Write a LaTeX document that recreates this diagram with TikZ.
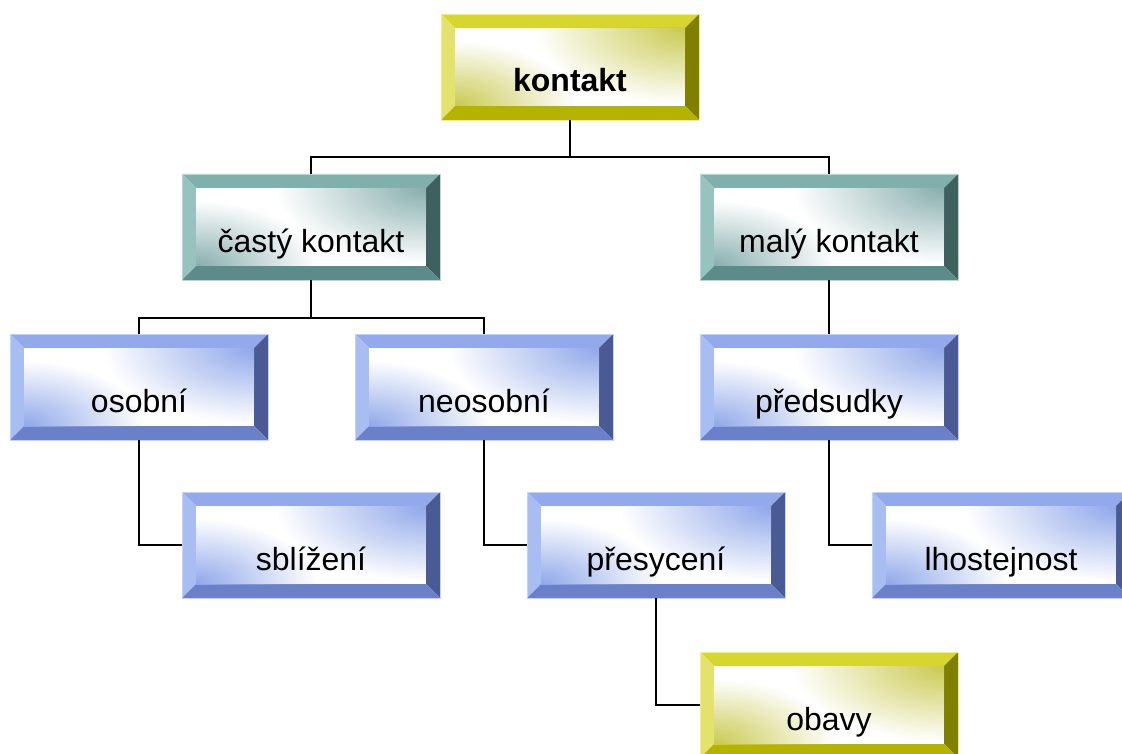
\documentclass[tikz,border=0pt]{standalone}
\usepackage{fontspec}
\setmainfont{Liberation Sans}
\usetikzlibrary{calc,fadings}

% bevel palettes: top, left, right, bottom, inner tint, rim
\definecolor{yTop}{HTML}{D6D62E}
\definecolor{yLeft}{HTML}{E2E26C}
\definecolor{yRight}{HTML}{7F7F00}
\definecolor{yBot}{HTML}{B4B400}
\definecolor{yTint}{HTML}{CACA50}
\definecolor{yRim}{HTML}{EEEE90}
\definecolor{tTop}{HTML}{80B0AC}
\definecolor{tLeft}{HTML}{98C2BE}
\definecolor{tRight}{HTML}{3E605E}
\definecolor{tBot}{HTML}{5C8C8A}
\definecolor{tTint}{HTML}{88AEAE}
\definecolor{tRim}{HTML}{B8D8D6}
\definecolor{bTop}{HTML}{92AAEC}
\definecolor{bLeft}{HTML}{A8BEF2}
\definecolor{bRight}{HTML}{4A5A94}
\definecolor{bBot}{HTML}{6A80C8}
\definecolor{bTint}{HTML}{90A8EA}
\definecolor{bRim}{HTML}{C4D2F8}

% soft corner glow: opaque in the middle, fading out to the rim
\tikzfading[name=glowfade, inner color=transparent!0, outer color=transparent!100]

\def\bv{14pt}

\tikzset{
  bevelbox/.style n args={6}{
    rectangle, inner sep=0pt, outer sep=0pt,
    minimum width=258pt, minimum height=106pt,
    text height=78pt, text depth=28pt,
    font=\fontsize{32}{38}\selectfont,
    draw=#6, line width=0.8pt,
    path picture={
      \path (path picture bounding box.north west) coordinate (@nw)
            (path picture bounding box.north east) coordinate (@ne)
            (path picture bounding box.south east) coordinate (@se)
            (path picture bounding box.south west) coordinate (@sw);
      \path ([shift={(\bv,-\bv)}]@nw) coordinate (@inw)
            ([shift={(-\bv,-\bv)}]@ne) coordinate (@ine)
            ([shift={(-\bv,\bv)}]@se) coordinate (@ise)
            ([shift={(\bv,\bv)}]@sw) coordinate (@isw);
      \fill[#1] (@nw) -- (@ne) -- (@ine) -- (@inw) -- cycle;
      \fill[#2] (@nw) -- (@inw) -- (@isw) -- (@sw) -- cycle;
      \fill[#3] (@ne) -- (@se) -- (@ise) -- (@ine) -- cycle;
      \fill[#4] (@sw) -- (@isw) -- (@ise) -- (@se) -- cycle;
      \fill[white] (@inw) rectangle (@ise);
      \begin{scope}
        \clip (@inw) rectangle (@ise);
        \fill[#5, path fading=glowfade] (@ine) ellipse [x radius=150pt, y radius=75pt];
        \fill[#5, path fading=glowfade] (@isw) ellipse [x radius=120pt, y radius=65pt];
      \end{scope}
    }
  },
  goldbox/.style={bevelbox={yTop}{yLeft}{yRight}{yBot}{yTint}{yRim}},
  tealbox/.style={bevelbox={tTop}{tLeft}{tRight}{tBot}{tTint}{tRim}},
  bluebox/.style={bevelbox={bTop}{bLeft}{bRight}{bBot}{bTint}{bRim}},
  link/.style={draw=black, line width=2pt}
}

\begin{document}
\begin{tikzpicture}[x=1pt, y=-1pt]
  \useasboundingbox (0,0) rectangle (1122,754);

  % junction points of the branching connectors
  \coordinate (j1) at (570,157);
  \coordinate (j2) at (311,318);

  % boxes (centres)
  \node[goldbox] (kontakt)    at (570,67)  {\bfseries kontakt};
  \node[tealbox] (casty)      at (311,227) {častý kontakt};
  \node[tealbox] (maly)       at (829,227) {malý kontakt};
  \node[bluebox] (osobni)     at (139,387) {osobní};
  \node[bluebox] (neosobni)   at (484,387) {neosobní};
  \node[bluebox] (predsudky)  at (829,387) {předsudky};
  \node[bluebox] (sblizeni)   at (311,545) {sblížení};
  \node[bluebox] (presyceni)  at (656,545) {přesycení};
  \node[bluebox] (lhostejnost) at (1001,545) {lhostejnost};
  \node[goldbox] (obavy)      at (829,705) {obavy};

  \draw[link] (kontakt.south) -- (j1);
  \draw[link] (casty.north) |- (j1) -| (maly.north);
  \draw[link] (casty.south) -- (j2);
  \draw[link] (osobni.north) |- (j2) -| (neosobni.north);
  \draw[link] (maly.south) -- (predsudky.north);
  \draw[link] (osobni.south) |- (sblizeni.west);
  \draw[link] (neosobni.south) |- (presyceni.west);
  \draw[link] (predsudky.south) |- (lhostejnost.west);
  \draw[link] (presyceni.south) |- (obavy.west);
\end{tikzpicture}
\end{document}
